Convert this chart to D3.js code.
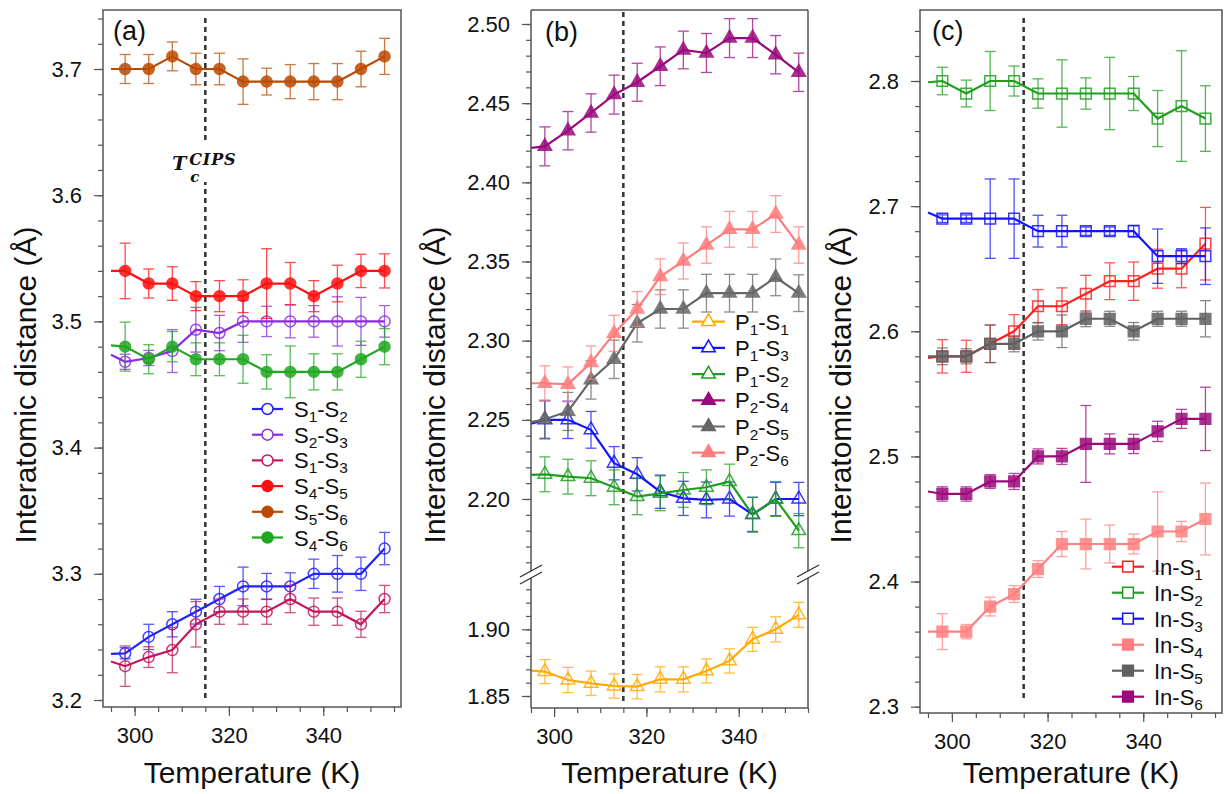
<!DOCTYPE html>
<html>
<head>
<meta charset="utf-8">
<script src="https://cdn.jsdelivr.net/npm/d3@7"></script>
<style>
  body { margin: 0; background: #fff; }
  svg { display: block; font-family: "Liberation Sans", Arial, sans-serif; }
</style>
</head>
<body>
<div id="chart"></div>
<script>
// temperatures (K); the first entry is the left edge of the plot where every trace starts
const temps = [295, 298, 303, 308, 313, 318, 323, 328, 333, 338, 343, 348, 353];
const tcTemp = 315;
const xMajor = [300, 320, 340];
const xMinorStep = 5;

// ---- panel (a): S-S distances
const namesA = ["S1-S2", "S2-S3", "S1-S3", "S4-S5", "S5-S6", "S4-S6"];
const colorsA = ["#2222ff", "#8a2be2", "#c2185b", "#ff1010", "#bb4a00", "#1fa81f"];
const filledA = [false, false, false, true, true, true];
const valuesA = [
  [3.2366, 3.237, 3.25, 3.26, 3.27, 3.28, 3.29, 3.29, 3.29, 3.30, 3.30, 3.30, 3.32],
  [3.4735, 3.468, 3.471, 3.4765, 3.4934, 3.4908, 3.50, 3.50, 3.50, 3.50, 3.50, 3.50, 3.50],
  [3.2305, 3.2268, 3.234, 3.2396, 3.26, 3.27, 3.27, 3.27, 3.28, 3.27, 3.27, 3.26, 3.28],
  [3.54, 3.54, 3.53, 3.53, 3.52, 3.52, 3.52, 3.53, 3.53, 3.52, 3.53, 3.54, 3.54],
  [3.70, 3.70, 3.70, 3.71, 3.70, 3.70, 3.69, 3.69, 3.69, 3.69, 3.69, 3.70, 3.71],
  [3.481, 3.48, 3.47, 3.48, 3.47, 3.47, 3.47, 3.46, 3.46, 3.46, 3.46, 3.47, 3.48]
];
const errorsA = [
  [null, .0044, .010, .010, .0098, .010, .0153, .0103, .0108, .0116, .0145, .0132, .0128],
  [null, .006, .006, .017, .0177, .014, .0166, .012, .013, .0125, .0195, .019, .0125],
  [null, .016, .0082, .018, .018, .010, .010, .010, .0108, .0108, .0108, .0103, .0108],
  [null, .022, .0115, .0133, .0115, .0123, .013, .0276, .0167, .0123, .0145, .0132, .0135],
  [null, .0115, .0115, .0114, .0125, .0125, .018, .0106, .0135, .0143, .0143, .0141, .0143],
  [null, .0194, .0115, .012, .013, .013, .019, .0136, .0205, .0143, .0143, .0143, .0143]
];
const yTicksA = [3.2, 3.3, 3.4, 3.5, 3.6, 3.7];

// ---- panel (b): P-S distances (P1-S1 sits on the lower, broken-off part of the axis)
const namesB = ["P1-S1", "P1-S3", "P1-S2", "P2-S4", "P2-S5", "P2-S6"];
const colorsB = ["#ffaa00", "#1414ff", "#1e9e1e", "#9b0a7d", "#666666", "#ff7c7c"];
const filledB = [false, false, false, true, true, true];
const valuesB = [
  [1.869, 1.8683, 1.862, 1.8595, 1.8575, 1.857, 1.8625, 1.8625, 1.8688, 1.8763, 1.8925, 1.90, 1.9108],
  [2.2475, 2.25, 2.25, 2.2437, 2.2226, 2.2156, 2.2046, 2.2004, 2.1994, 2.20, 2.1903, 2.20, 2.20],
  [2.2152, 2.2156, 2.2141, 2.2131, 2.2074, 2.2015, 2.2036, 2.2057, 2.2074, 2.211, 2.19, 2.20, 2.18],
  [2.4217, 2.4227, 2.4326, 2.4438, 2.4554, 2.4632, 2.4733, 2.4836, 2.4817, 2.4911, 2.4911, 2.4806, 2.4695],
  [2.2485, 2.2504, 2.2553, 2.2752, 2.2882, 2.311, 2.32, 2.32, 2.33, 2.33, 2.33, 2.34, 2.33],
  [2.2731, 2.2731, 2.2724, 2.2861, 2.3046, 2.32, 2.3404, 2.3503, 2.3604, 2.3703, 2.3703, 2.38, 2.3604]
];
const errorsB = [
  [null, .009, .0094, .0091, .0091, .0091, .0094, .0094, .009, .0091, .009, .0094, .0094],
  [null, .012, .0118, .0116, .0105, .0105, .0105, .0108, .0113, .0108, .0108, .0105, .0105],
  [null, .011, .011, .011, .011, .0114, .011, .011, .011, .011, .011, .011, .0108],
  [null, .0123, .0121, .0121, .0123, .012, .0122, .0119, .0123, .0123, .0123, .0121, .0121],
  [null, .012, .012, .0121, .0121, .0118, .0121, .0121, .0119, .0119, .0119, .0116, .0116],
  [null, .011, .011, .0105, .0114, .011, .0113, .0114, .0115, .0113, .0113, .0116, .0115]
];
const yTicksBUpper = [2.20, 2.25, 2.30, 2.35, 2.40, 2.45, 2.50];
const yTicksBLower = [1.85, 1.90];

// ---- panel (c): In-S distances
const namesC = ["In-S1", "In-S2", "In-S3", "In-S4", "In-S5", "In-S6"];
const colorsC = ["#ff2020", "#1ea01e", "#1414ff", "#ff8080", "#606060", "#9c0a7c"];
const filledC = [false, false, false, true, true, true];
const valuesC = [
  [2.5787, 2.58, 2.58, 2.59, 2.60, 2.62, 2.62, 2.63, 2.64, 2.64, 2.65, 2.65, 2.67],
  [2.799, 2.80, 2.79, 2.80, 2.80, 2.79, 2.79, 2.79, 2.79, 2.79, 2.77, 2.78, 2.77],
  [2.695, 2.69, 2.69, 2.69, 2.69, 2.68, 2.68, 2.68, 2.68, 2.68, 2.66, 2.66, 2.66],
  [2.36, 2.36, 2.36, 2.38, 2.39, 2.41, 2.43, 2.43, 2.43, 2.43, 2.44, 2.44, 2.45],
  [2.58, 2.58, 2.58, 2.59, 2.59, 2.60, 2.60, 2.61, 2.61, 2.60, 2.61, 2.61, 2.61],
  [2.472, 2.47, 2.47, 2.48, 2.48, 2.50, 2.50, 2.51, 2.51, 2.51, 2.52, 2.53, 2.53]
];
const errorsC = [
  [null, .0133, .0128, .015, .0133, .0133, .0147, .0147, .0147, .0153, .0156, .0152, .029],
  [null, .011, .0107, .0236, .012, .0117, .0269, .0125, .0289, .0136, .0224, .0442, .0262],
  [null, .003, .003, .0317, .0317, .0127, .0127, .0033, .0033, .0047, .0217, .006, .0226],
  [null, .0143, .0057, .0075, .0067, .0067, .010, .0199, .0151, .0079, .0317, .008, .0287],
  [null, .0067, .006, .015, .0064, .007, .013, .0063, .006, .007, .006, .006, .0145],
  [null, .0057, .0057, .0055, .0064, .006, .0064, .0307, .008, .0077, .0081, .0076, .0253]
];
const yTicksC = [2.3, 2.4, 2.5, 2.6, 2.7, 2.8];

const yTitle = "Interatomic distance (Å)";
const xTitle = "Temperature (K)";

function makeSeries(names, colors, filled, values, errors, shape) {
  return names.map((n, i) => ({ name: n, color: colors[i], filled: filled[i], values: values[i], errors: errors[i], shape }));
}
const seriesA = makeSeries(namesA, colorsA, filledA, valuesA, errorsA, d3.symbolCircle);
const seriesB = makeSeries(namesB, colorsB, filledB, valuesB, errorsB, d3.symbolTriangle);
const seriesC = makeSeries(namesC, colorsC, filledC, valuesC, errorsC, d3.symbolSquare);
const symbolSize = new Map([[d3.symbolCircle, 95], [d3.symbolTriangle, 80], [d3.symbolSquare, 115]]);

const panels = [
  { key: "a", frame: {x0: 103, y0: 10, x1: 401, y1: 707}, xRange: [111, 394],
    segs: [{domain: [3.2, 3.7], range: [700, 69], clip: [10, 707], lo: 3.2, hi: 3.74, step: 0.02,
            major: yTicksA, fmt: d3.format(".1f"), series: seriesA}],
    legend: {x0: 252, x1: 283, xt: 294, y0: 409, dy: 25.7, series: seriesA},
    letter: {text: "(a)", x: 113, y: 40}, titleX: 36, dash: [18, 700], tcLabel: true },
  { key: "b", frame: {x0: 531, y0: 10, x1: 808, y1: 708}, xRange: [531, 808],
    segs: [{domain: [2.2, 2.5], range: [499, 24], clip: [10, 571], lo: 2.16, hi: 2.50, step: 0.01,
            major: yTicksBUpper, fmt: d3.format(".2f"), series: seriesB.slice(1)},
           {domain: [1.85, 1.90], range: [696, 629.3], clip: [578, 708], lo: 1.85, hi: 1.93, step: 0.01,
            major: yTicksBLower, fmt: d3.format(".2f"), series: seriesB.slice(0, 1)}],
    breakY: [571, 578],
    legend: {x0: 692, x1: 725, xt: 735, y0: 321.7, dy: 26.2, series: seriesB},
    letter: {text: "(b)", x: 545, y: 41}, titleX: 445, dash: [12, 705] },
  { key: "c", frame: {x0: 920, y0: 10, x1: 1222, y1: 713}, xRange: [928, 1215],
    segs: [{domain: [2.3, 2.8], range: [706.7, 81], clip: [10, 713], lo: 2.3, hi: 2.84, step: 0.02,
            major: yTicksC, fmt: d3.format(".1f"), series: seriesC}],
    legend: {x0: 1112, x1: 1144, xt: 1154, y0: 566.7, dy: 26, series: seriesC},
    letter: {text: "(c)", x: 932, y: 40}, titleX: 851, dash: [18, 702] }
];

const svg = d3.select("#chart").append("svg").attr("width", 1225).attr("height", 794);
const axisColor = "#555";

// text with digits drawn as subscripts
function subLabel(text, str, size) {
  let down = false;
  str.split(/(\d+)/).filter(s => s.length).forEach(s => {
    const isSub = /^\d+$/.test(s);
    const t = text.append("tspan").text(s);
    if (isSub && !down) { t.attr("dy", 5).attr("font-size", size * 0.7); down = true; }
    else if (!isSub && down) { t.attr("dy", -5); down = false; }
  });
}

function symbolPath(shape) {
  return d3.symbol().type(shape).size(symbolSize.get(shape))();
}

function drawSeries(g, s, x, y) {
  const pts = temps.map((t, i) => ({t, v: s.values[i], e: s.errors[i]}));
  const marked = pts.filter(d => d.e != null);
  const sg = g.append("g");
  // error bars
  const eb = sg.append("g").attr("stroke", s.color).attr("stroke-width", 1.3).attr("opacity", 0.75);
  marked.forEach(d => {
    const cx = x(d.t), y0 = y(d.v - d.e), y1 = y(d.v + d.e);
    eb.append("line").attr("x1", cx).attr("x2", cx).attr("y1", y0).attr("y2", y1);
    eb.append("line").attr("x1", cx - 5.5).attr("x2", cx + 5.5).attr("y1", y0).attr("y2", y0);
    eb.append("line").attr("x1", cx - 5.5).attr("x2", cx + 5.5).attr("y1", y1).attr("y2", y1);
  });
  // trace
  sg.append("path")
    .datum(pts)
    .attr("d", d3.line().x(d => x(d.t)).y(d => y(d.v)))
    .attr("fill", "none")
    .attr("stroke", s.color)
    .attr("stroke-width", 2.2);
  // markers
  sg.selectAll("path.mk")
    .data(marked)
    .join("path")
      .attr("class", "mk")
      .attr("d", symbolPath(s.shape))
      .attr("transform", d => `translate(${x(d.t)},${y(d.v)})`)
      .attr("fill", s.filled ? s.color : "none")
      .attr("stroke", s.color)
      .attr("stroke-width", 1.5)
      .attr("opacity", 0.85);
}

panels.forEach(p => {
  const f = p.frame;
  const g = svg.append("g");
  const x = d3.scaleLinear().domain([295, 355]).range(p.xRange);
  const xc = x(tcTemp);

  // Tc dashed line
  g.append("line")
    .attr("x1", xc).attr("x2", xc).attr("y1", p.dash[0]).attr("y2", p.dash[1])
    .attr("stroke", "#333").attr("stroke-width", 2.5).attr("stroke-dasharray", "5,4");

  if (p.tcLabel) {
    g.append("rect").attr("x", xc - 34).attr("y", 143).attr("width", 70).attr("height", 39).attr("fill", "#fff");
    const tc = g.append("g").attr("font-family", "'DejaVu Serif', serif").attr("font-weight", "bold").attr("font-style", "italic").attr("fill", "#111");
    tc.append("text").attr("x", xc - 33).attr("y", 170).attr("font-size", 19).text("T");
    tc.append("text").attr("x", xc - 15).attr("y", 181.5).attr("font-size", 15).text("c");
    tc.append("text").attr("x", xc - 16).attr("y", 165).attr("font-size", 16).attr("letter-spacing", 0.8).text("CIPS");
  }

  // x axis
  const xMinor = d3.range(295, 356, xMinorStep);
  g.append("g").attr("transform", `translate(0,${f.y1})`)
    .call(d3.axisBottom(x).tickValues(xMinor).tickSize(5).tickFormat(""))
    .call(a => a.select(".domain").remove());
  g.append("g").attr("transform", `translate(0,${f.y1})`)
    .call(d3.axisBottom(x).tickValues(xMajor).tickSize(9).tickPadding(11))
    .call(a => a.select(".domain").remove())
    .call(a => a.selectAll("text").attr("font-size", 22).attr("font-family", "Liberation Sans, Arial").attr("fill", "#111"));

  // y segments
  p.segs.forEach((s, si) => {
    const y = d3.scaleLinear().domain(s.domain).range(s.range);
    const minor = d3.range(Math.round(s.lo / s.step), Math.round(s.hi / s.step) + 1).map(k => +(k * s.step).toFixed(3));
    g.append("g").attr("transform", `translate(${f.x0},0)`)
      .call(d3.axisLeft(y).tickValues(minor).tickSize(5).tickFormat(""))
      .call(a => a.select(".domain").remove());
    g.append("g").attr("transform", `translate(${f.x0},0)`)
      .call(d3.axisLeft(y).tickValues(s.major).tickSize(9).tickPadding(12).tickFormat(s.fmt))
      .call(a => a.select(".domain").remove())
      .call(a => a.selectAll("text").attr("font-size", 22).attr("font-family", "Liberation Sans, Arial").attr("fill", "#111"));

    const clipId = `clip-${p.key}-${si}`;
    svg.append("clipPath").attr("id", clipId).append("rect")
      .attr("x", f.x0).attr("y", s.clip[0]).attr("width", f.x1 - f.x0).attr("height", s.clip[1] - s.clip[0]);
    const plot = g.append("g").attr("clip-path", `url(#${clipId})`);
    s.series.forEach(ser => drawSeries(plot, ser, x, y));
  });

  g.selectAll(".tick line").attr("stroke", axisColor).attr("stroke-width", 1.2);

  // frame
  const fr = g.append("g").attr("stroke", axisColor).attr("stroke-width", 1.5).attr("fill", "none");
  if (!p.breakY) {
    fr.append("rect").attr("x", f.x0).attr("y", f.y0).attr("width", f.x1 - f.x0).attr("height", f.y1 - f.y0);
  } else {
    const [b0, b1] = p.breakY;
    fr.append("line").attr("x1", f.x0).attr("x2", f.x1).attr("y1", f.y0).attr("y2", f.y0);
    fr.append("line").attr("x1", f.x0).attr("x2", f.x1).attr("y1", f.y1).attr("y2", f.y1);
    [f.x0, f.x1].forEach(bx => {
      fr.append("line").attr("x1", bx).attr("x2", bx).attr("y1", f.y0).attr("y2", b0);
      fr.append("line").attr("x1", bx).attr("x2", bx).attr("y1", b1).attr("y2", f.y1);
      [b0, b1].forEach(by => {
        fr.append("line").attr("x1", bx - 11).attr("x2", bx + 11).attr("y1", by + 6).attr("y2", by - 6)
          .attr("stroke", "#333").attr("stroke-width", 1.4);
      });
    });
  }

  // panel letter
  g.append("text").attr("x", p.letter.x).attr("y", p.letter.y)
    .attr("font-size", 27).attr("fill", "#111").text(p.letter.text);

  // axis titles
  g.append("text")
    .attr("transform", `translate(${p.titleX},385) rotate(-90)`)
    .attr("text-anchor", "middle").attr("font-size", 30).attr("fill", "#111")
    .text(yTitle);
  g.append("text")
    .attr("x", (f.x0 + f.x1) / 2).attr("y", 783)
    .attr("text-anchor", "middle").attr("font-size", 30).attr("fill", "#111")
    .text(xTitle);

  // legend
  const L = p.legend;
  L.series.forEach((s, i) => {
    const ly = L.y0 + i * L.dy;
    const row = g.append("g");
    row.append("line").attr("x1", L.x0).attr("x2", L.x1).attr("y1", ly).attr("y2", ly)
      .attr("stroke", s.color).attr("stroke-width", 2.2);
    row.append("path").attr("d", symbolPath(s.shape))
      .attr("transform", `translate(${(L.x0 + L.x1) / 2},${ly})`)
      .attr("fill", s.filled ? s.color : "#fff").attr("stroke", s.color).attr("stroke-width", 1.5);
    const t = row.append("text").attr("x", L.xt).attr("y", ly + 8).attr("font-size", 22).attr("fill", "#111");
    subLabel(t, s.name, 22);
  });
});
</script>
</body>
</html>
